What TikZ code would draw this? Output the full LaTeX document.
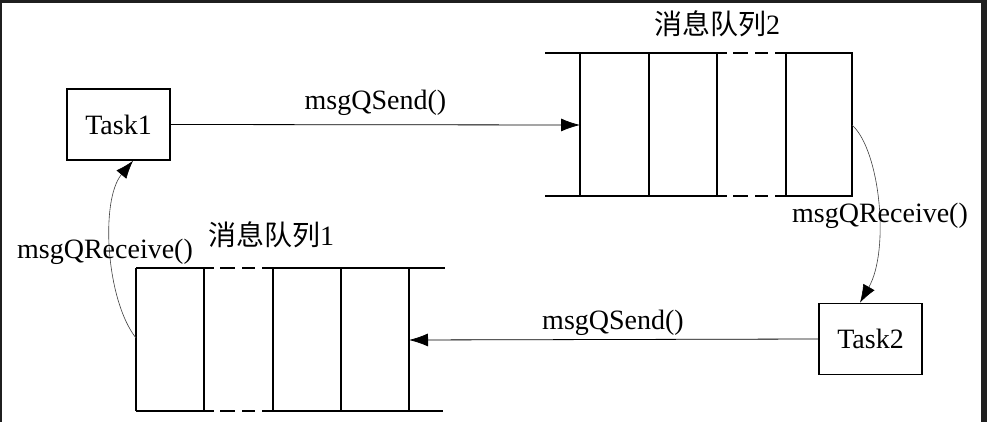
\documentclass[tikz,border=0pt]{standalone}
\usepackage{fontspec}
\setmainfont{Liberation Serif}
\newfontfamily\cjk{Noto Sans CJK SC}
\usetikzlibrary{arrows.meta}
\begin{document}
\begin{tikzpicture}[x=1pt,y=-1pt,
  taskbox/.style={draw, line width=1.6pt, minimum width=103pt, minimum height=71pt, inner sep=0pt, font=\fontsize{28}{30}\selectfont},
  lbl/.style={inner sep=0pt, font=\fontsize{28}{30}\selectfont},
  qline/.style={line width=1.4pt},
  qdash/.style={line width=1.4pt, dash pattern=on 10pt off 6pt on 15pt off 7pt on 13pt off 7pt on 11pt},
  conn/.style={line width=0.8pt, -{Latex[length=19pt,width=13pt]}},
  curvy/.style={line width=0.6pt, draw=black!75, -{Latex[length=18pt,width=13pt,fill=black,color=black]}}]
\fill[black!88] (0,0) rectangle (987,422);
\fill[white] (2,3) rectangle (981,422);
\useasboundingbox (0,0) rectangle (987,422);

% tasks
\node[taskbox] (t1) at (118.5,124.5) {Task1};
\node[taskbox] (t2) at (870.5,339) {Task2};

% queue 2
\draw[qline] (545,53) -- (717,53) (786,53) -- (853,53);
\draw[qdash] (717,53) -- (786,53);
\draw[qline] (545,196) -- (717,196) (786,196) -- (853,196);
\draw[qdash] (717,196) -- (786,196);
\foreach \x in {580,649,717,786,852} \draw[qline] (\x,53) -- (\x,196);
\coordinate (q2in) at (580,125);
\coordinate (q2out) at (852,125);
\node[lbl] (q2lbl) at (717,24) {{\cjk 消息队列}2};

% queue 1
\draw[qline] (136,268) -- (204,268) (273,268) -- (445,268);
\draw[qdash] (204,268) -- (273,268);
\draw[qline] (136,411) -- (204,411) (273,411) -- (443,411);
\draw[qdash] (204,411) -- (273,411);
\foreach \x in {136,204,273,341,409} \draw[qline] (\x,268) -- (\x,411);
\coordinate (q1in) at (409,340);
\coordinate (q1out) at (136,338);
\node[lbl] (q1lbl) at (271,235) {{\cjk 消息队列}1};

% connectors
\draw[conn] (t1.east) -- (q2in) node[lbl, midway, above=9pt] (s1) {msgQSend()};
\draw[conn] (t2.west) -- (q1in);
\node[lbl] (s2) at (613,323) {msgQSend()};
\draw[curvy] (q2out) .. controls (880,150) and (890,250) .. (t2.north -| 860,0);
\node[lbl] (r2) at (880,216) {msgQReceive()};
\draw[curvy] (q1out) .. controls (106,300) and (100,200) .. (t1.south -| 133,0);
\node[lbl] (r1) at (105,252) {msgQReceive()};
\end{tikzpicture}
\end{document}
